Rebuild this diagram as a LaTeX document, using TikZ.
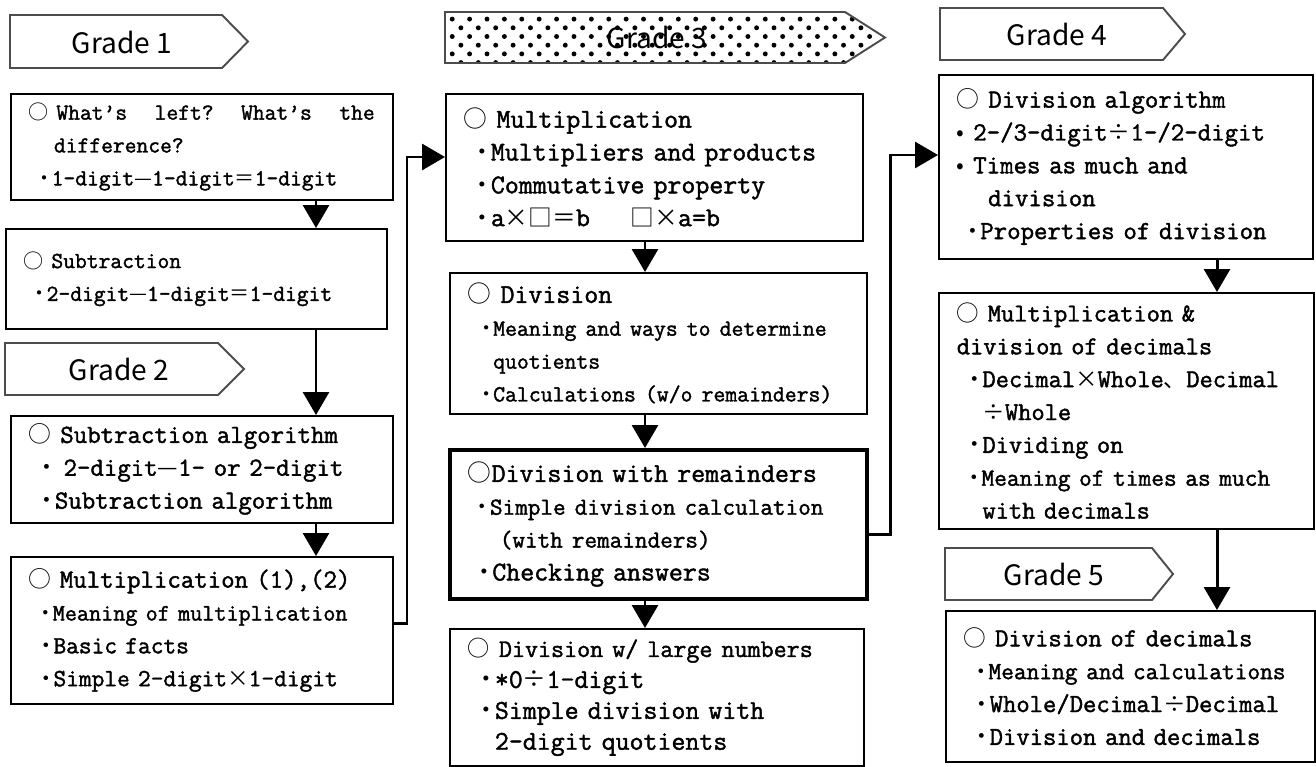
\documentclass[tikz,border=0pt]{standalone}
\usepackage{fontspec}
\setmainfont{Latin Modern Mono}[Scale=1.143, FakeBold=1.6]
\newfontfamily\jpfont{Noto Sans CJK JP}
\usetikzlibrary{arrows.meta,patterns.meta}

\newcommand{\jp}[1]{{\jpfont #1}}
\newcommand{\dotm}{\makebox[0.6em]{\jp{・}}}
\newcommand{\fs}[2][18.7]{\fontsize{#2}{#1}\selectfont}

\begin{document}
\begin{tikzpicture}[
  x=0.02cm, y=-0.02cm,
  box/.style={draw=black, line width=0.9pt, anchor=north west, align=left, inner xsep=0.36cm, inner ysep=0pt},
  thickbox/.style={box, line width=2.2pt},
  banner/.style={draw=black!70, line width=1.1pt},
  glabel/.style={font=\jpfont\fontsize{16}{19}\selectfont},
  flow/.style={line width=1.7pt, -{Triangle[width=0.52cm, length=0.46cm]}}
]
  \useasboundingbox (0,0) rectangle (1316,767);

  % --- grade banners ---
  \draw[banner] (10,15) -- (222,15) -- (248,41.5) -- (222,68) -- (10,68) -- cycle;
  \node[glabel] (g1) at (122,42) {Grade 1};
  \draw[banner] (5,343) -- (218,343) -- (244,369) -- (218,395) -- (5,395) -- cycle;
  \node[glabel] (g2) at (119,369) {Grade 2};
  \draw[banner, pattern={Dots[angle=45, distance=7pt, radius=1.4pt]}]
    (445,12) -- (845,12) -- (885,37.5) -- (845,63) -- (445,63) -- cycle;
  \node[glabel] (g3) at (657,37) {Grade 3};
  \draw[banner] (940,8) -- (1163,8) -- (1185,34) -- (1163,60) -- (940,60) -- cycle;
  \node[glabel] (g4) at (1057,34) {Grade 4};
  \draw[banner] (945,548) -- (1152,548) -- (1173,574) -- (1152,600) -- (945,600) -- cycle;
  \node[glabel] (g5) at (1054,574) {Grade 5};

  % --- grades 1 and 2 ---
  \node[box, minimum width=7.64cm, minimum height=2.12cm, text width=6.92cm, font={\fs{11.4}}] (left) at (10,93)
    {\jp{○} What's\hfill left?\hfill What's\hfill the\\
     \hspace*{1.1em}difference?\\
     \hspace*{0.4em}\dotm 1-digit\jp{—}1-digit\jp{＝}1-digit};
  \node[box, minimum width=7.62cm, minimum height=2.0cm, text width=6.9cm, font={\fs{11.4}}] (sub) at (5,228)
    {\jp{○} Subtraction\\
     \hspace*{0.4em}\dotm 2-digit\jp{—}1-digit\jp{＝}1-digit};
  \node[box, minimum width=7.64cm, minimum height=2.14cm, text width=6.92cm, font={\fs{13}}] (subalg) at (10,415)
    {\jp{○} Subtraction algorithm\\
     \mbox{\hspace*{0.4em}\dotm\ 2-digit\jp{—}1- or 2-digit}\\
     \hspace*{0.4em}\dotm Subtraction algorithm};
  \node[box, minimum width=7.64cm, minimum height=2.94cm, text width=6.92cm, font={\fs{12.3}}] (mult) at (10,556)
    {{\fs{13}\jp{○} Multiplication (1),(2)}\\
     \mbox{\hspace*{0.4em}{\fs{11.7}\dotm Meaning of multiplication}}\\
     \hspace*{0.4em}\dotm Basic facts\\
     \hspace*{0.4em}\dotm Simple 2-digit\jp{×}1-digit};

  % --- grade 3 ---
  \node[box, minimum width=8.34cm, minimum height=2.94cm, text width=7.62cm, font={\fs{13.5}}] (mult3) at (445,93)
    {\jp{○} Multiplication\\
     \mbox{\hspace*{0.4em}\dotm Multipliers and products}\\
     \hspace*{0.4em}\dotm Commutative property\\
     \hspace*{0.4em}\dotm a\jp{×□＝}b\hspace{1.5em}\jp{□×}a=b};
  \node[box, minimum width=8.34cm, minimum height=2.82cm, text width=7.62cm, font={\fs{13.5}}] (div) at (449,272)
    {\jp{○} Division\\
     \mbox{\fs{11.5}\hspace*{0.5em}\dotm Meaning and ways to determine}\\
     \mbox{\fs{11.5}\hspace*{1.1em}quotients}\\
     \mbox{\fs{11.5}\hspace*{0.5em}\dotm Calculations (w/o remainders)}};
  \node[thickbox, minimum width=8.34cm, minimum height=2.98cm, text width=7.62cm, font={\fs{13.5}}] (divrem) at (448,448)
    {\mbox{\jp{○}Division with remainders}\\
     \mbox{\fs{12.2}\hspace*{0.3em}\dotm Simple division calculation}\\
     \mbox{\fs{12.2}\hspace*{1.3em}(with remainders)}\\
     \hspace*{0.3em}\dotm Checking answers};
  \node[box, minimum width=8.28cm, minimum height=2.74cm, text width=7.56cm, font={\fs[17.6]{13.5}}] (divlarge) at (449,628)
    {\mbox{\fs[17.6]{12.6}\jp{○} Division w/ large numbers}\\
     \hspace*{0.4em}\dotm *0\jp{÷}1-digit\\
     \hspace*{0.4em}\dotm Simple division with\\
     \hspace*{1em}2-digit quotients};

  % --- grades 4 and 5 ---
  \node[box, minimum width=7.48cm, minimum height=3.68cm, text width=6.76cm, font={\fs{13}}] (divalg) at (938,74)
    {\jp{○} Division algorithm\\
     \mbox{\jp{•} 2-/3-digit\jp{÷}1-/2-digit}\\
     \jp{•} Times as much and\\
     \hspace*{1.2em}division\\
     \hspace*{0.3em}\dotm Properties of division};
  \node[box, minimum width=7.5cm, minimum height=4.72cm, text width=6.78cm, font={\fs{12.8}}] (multdec) at (938,292)
    {\jp{○} Multiplication \&\\
     division of decimals\\
     \mbox{\hspace*{0.4em}\dotm Decimal\jp{×}Whole\jp{、}Decimal}\\
     \hspace*{1em}\jp{÷}Whole\\
     \hspace*{0.4em}\dotm Dividing on\\
     \mbox{\fs{12.3}\hspace*{0.4em}\dotm Meaning of times as much}\\
     \hspace*{1em}with decimals};
  \node[box, minimum width=7.38cm, minimum height=3.02cm, text width=6.66cm, font={\fs{12.9}}] (divdec) at (945,610)
    {\jp{○} Division of decimals\\
     \mbox{\fs{12.3}\hspace*{0.4em}\dotm Meaning and calculations}\\
     \hspace*{0.4em}\dotm Whole/Decimal\jp{÷}Decimal\\
     \hspace*{0.4em}\dotm Division and decimals};

  % --- connectors ---
  \coordinate (c1) at (316,0);
  \coordinate (c3) at (645,0);
  \coordinate (c4) at (1217,0);
  \coordinate (j1) at (407,157);
  \coordinate (j2) at (890,155);

  \draw[flow] (left.south -| c1) -- (sub.north -| c1);
  \draw[flow] (sub.south -| c1) -- (subalg.north -| c1);
  \draw[flow] (subalg.south -| c1) -- (mult.north -| c1);
  \draw[flow] ([yshift=0.13cm]mult.east) -| (j1) -- (mult3.west |- j1);

  \draw[flow] (mult3.south -| c3) -- (div.north -| c3);
  \draw[flow] (div.south -| c3) -- (divrem.north -| c3);
  \draw[flow] (divrem.south -| c3) -- (divlarge.north -| c3);
  \draw[flow] ([yshift=-0.21cm]divrem.east) -| (j2) -- (divalg.west |- j2);

  \draw[flow] (divalg.south -| c4) -- (multdec.north -| c4);
  \draw[flow] (multdec.south -| c4) -- (divdec.north -| c4);
\end{tikzpicture}
\end{document}
